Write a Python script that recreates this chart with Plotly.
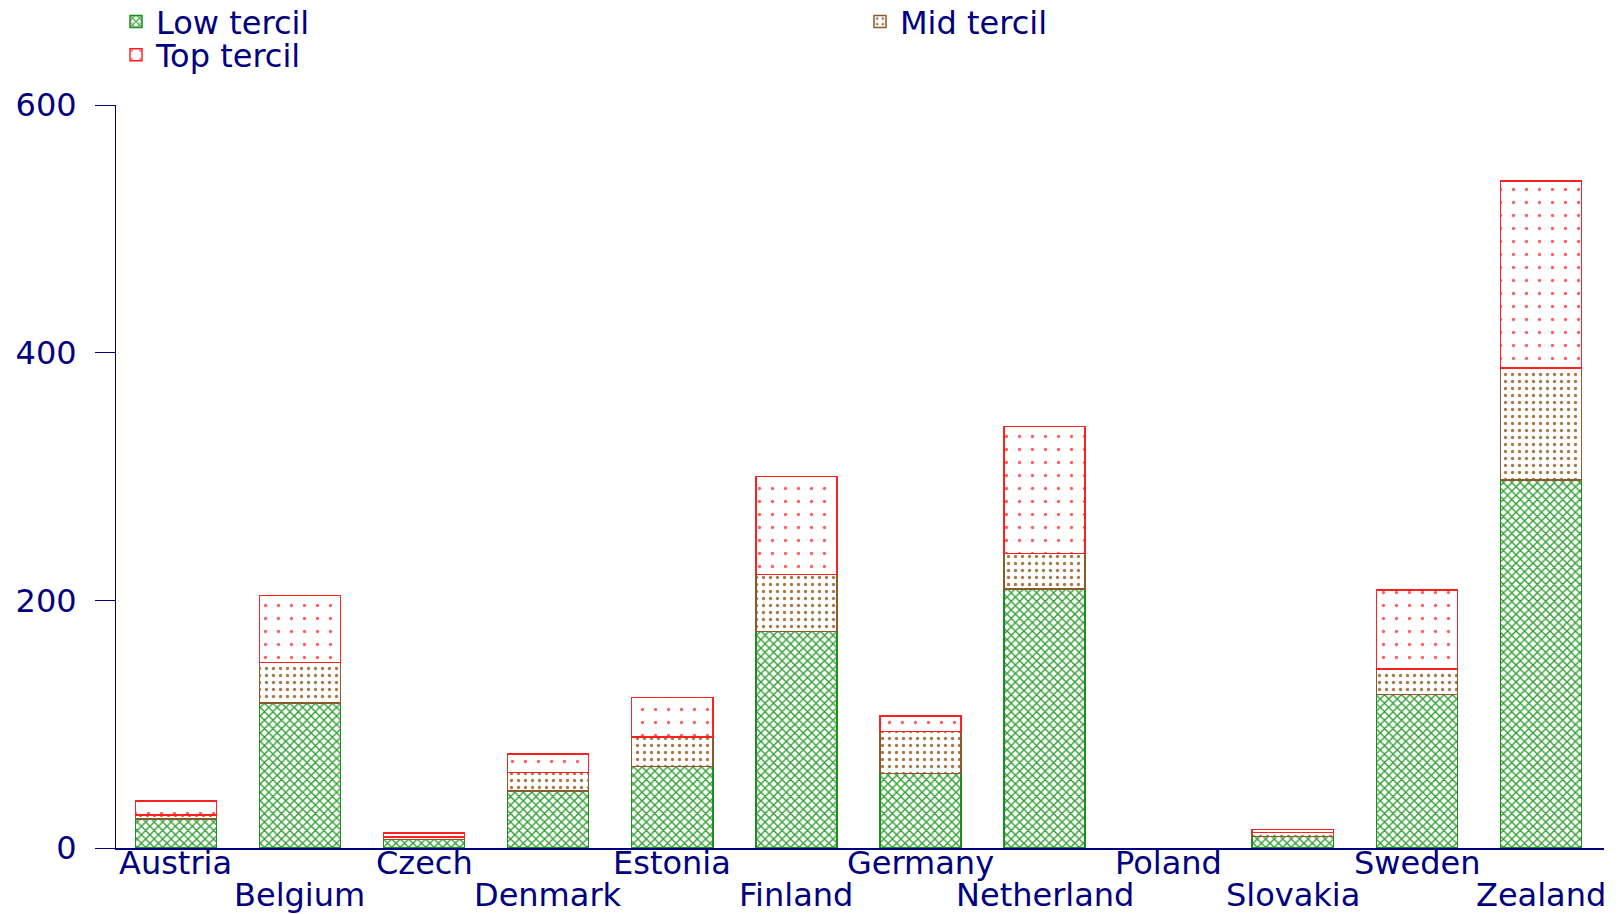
import plotly.graph_objects as go

countries = ["Austria", "Belgium", "Czech", "Denmark", "Estonia", "Finland",
             "Germany", "Netherland", "Poland", "Slovakia", "Sweden", "Zealand"]
low_tercil = [23.4, 117, 6.7, 46, 66, 175, 60, 209, 0, 9.4, 124, 297]
mid_tercil = [3.3, 33, 2.2, 15, 23.5, 46, 34, 29, 0, 3.2, 20.5, 90.5]
top_tercil = [11.3, 54, 3.2, 15, 32, 79, 12.7, 102.5, 0, 2.2, 64, 151]
y_ticks = [0, 200, 400, 600]

NAVY = "#000080"
FONT = "DejaVu Sans"
FS = 32

x_idx = list(range(len(countries)))


def outline(vals):
    # no outline for empty segments
    return [1.5 if v > 0 else 0 for v in vals]


fig = go.Figure()
fig.add_trace(go.Bar(
    x=x_idx, y=low_tercil, name="Low tercil", legend="legend",
    marker=dict(color="white", line=dict(color="#1E8C1E", width=outline(low_tercil)),
                pattern=dict(shape="x", fgcolor="#33A033", bgcolor="white",
                             size=6, solidity=0.42, fillmode="replace")),
))
fig.add_trace(go.Bar(
    x=x_idx, y=mid_tercil, name="Mid tercil", legend="legend2",
    marker=dict(color="white", line=dict(color="#8B5A2B", width=outline(mid_tercil)),
                pattern=dict(shape=".", fgcolor="#A87848", bgcolor="white",
                             size=7, solidity=0.18, fillmode="replace")),
))
fig.add_trace(go.Bar(
    x=x_idx, y=top_tercil, name="Top tercil", legend="legend3",
    marker=dict(color="white", line=dict(color="#FF2020", width=outline(top_tercil)),
                pattern=dict(shape=".", fgcolor="#FF6060", bgcolor="white",
                             size=13, solidity=0.05, fillmode="replace")),
))

# Category labels, alternating between two rows
for i, name in enumerate(countries):
    fig.add_annotation(
        x=i, xref="x", y=-0.0198 if i % 2 == 0 else -0.0629, yref="paper",
        text=name, showarrow=False, xanchor="center", yanchor="middle",
        font=dict(family=FONT, size=FS, color=NAVY),
    )

leg_common = dict(orientation="v", xanchor="left", yanchor="middle",
                  font=dict(family=FONT, size=FS, color=NAVY),
                  bgcolor="rgba(0,0,0,0)", borderwidth=0)

fig.update_layout(
    width=1614, height=906,
    margin=dict(l=108, r=18, t=97, b=66, autoexpand=False),
    paper_bgcolor="white", plot_bgcolor="white",
    barmode="stack", bargap=0.347,
    font=dict(family=FONT, size=FS, color=NAVY),
    showlegend=True,
    legend=dict(x=0.0, y=1.1122, **leg_common),
    legend2=dict(x=0.5, y=1.1122, **leg_common),
    legend3=dict(x=0.0, y=1.0673, **leg_common),
    xaxis=dict(range=[-0.482, 11.508], showline=True, linecolor=NAVY, linewidth=1.5,
               showticklabels=False, ticks="", showgrid=False, zeroline=False,
               fixedrange=True),
    yaxis=dict(range=[0, 600], tickvals=y_ticks, showline=True, linecolor=NAVY,
               linewidth=1, ticks="outside", ticklen=20, tickcolor=NAVY, tickwidth=1,
               ticklabelstandoff=12, showgrid=False, zeroline=False,
               tickfont=dict(family=FONT, size=FS, color=NAVY)),
)

fig.write_html("out.html")
